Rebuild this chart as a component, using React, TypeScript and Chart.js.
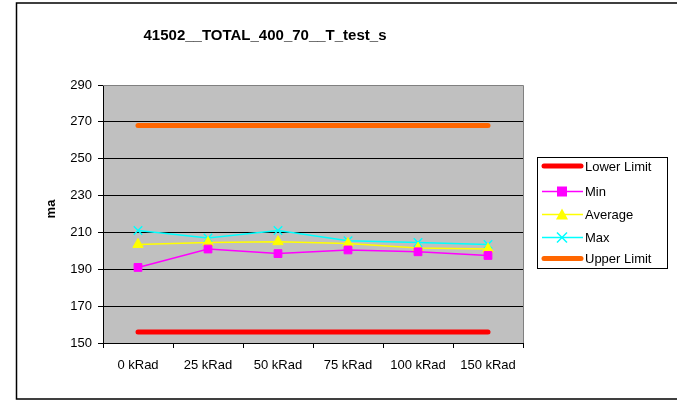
import React, { useEffect, useRef } from "react";
import { Chart, registerables } from "chart.js";

Chart.register(...registerables);

const chartTitle = "41502__TOTAL_400_70__T_test_s";
const yAxisTitle = "ma";
const categories = ["0 kRad", "25 kRad", "50 kRad", "75 kRad", "100 kRad", "150 kRad"];
const lowerLimit = [156, 156, 156, 156, 156, 156];
const minValues = [191, 201, 198.5, 200.5, 199.5, 197.5];
const avgValues = [203.5, 204.5, 205, 204, 201.5, 201];
const maxValues = [211, 207, 211, 205.5, 204.5, 203.5];
const upperLimit = [268, 268, 268, 268, 268, 268];
const yMin = 150;
const yMax = 290;
const yStep = 20;

const FONT = "'Liberation Sans', Arial, sans-serif";

const decorPlugin = {
  id: "decor",
  beforeDraw(chart: any) {
    const { ctx, chartArea } = chart;
    ctx.save();
    ctx.fillStyle = "#ffffff";
    ctx.fillRect(0, 0, chart.width, chart.height);
    ctx.fillStyle = "#C0C0C0";
    ctx.fillRect(chartArea.left, chartArea.top, chartArea.right - chartArea.left, chartArea.bottom - chartArea.top);
    ctx.restore();
  },
  afterDraw(chart: any) {
    const { ctx, chartArea } = chart;
    ctx.save();
    // outer border
    ctx.strokeStyle = "#000";
    ctx.lineWidth = 1.5;
    ctx.strokeRect(16.5, 3, 700, 396);
    // plot border top/right (gray)
    ctx.strokeStyle = "#808080";
    ctx.lineWidth = 1;
    ctx.beginPath();
    ctx.moveTo(chartArea.left, chartArea.top + 0.5);
    ctx.lineTo(chartArea.right + 0.5, chartArea.top + 0.5);
    ctx.lineTo(chartArea.right + 0.5, chartArea.bottom);
    ctx.stroke();
    // title
    ctx.fillStyle = "#000";
    ctx.font = `bold 15px ${FONT}`;
    ctx.textAlign = "center";
    ctx.textBaseline = "middle";
    ctx.fillText(chartTitle, 265, 36);
    // y title
    ctx.save();
    ctx.translate(51, 209);
    ctx.rotate(-Math.PI / 2);
    ctx.font = `bold 13px ${FONT}`;
    ctx.fillText(yAxisTitle, 0, 0);
    ctx.restore();
    // legend
    const lx = 537.5, ly = 157.5, lw = 130, lh = 111;
    ctx.fillStyle = "#fff";
    ctx.fillRect(lx, ly, lw, lh);
    ctx.strokeStyle = "#000";
    ctx.lineWidth = 1;
    ctx.strokeRect(lx, ly, lw, lh);
    const rows = [166, 191.5, 214.5, 237.5, 258.5];
    chart.data.datasets.forEach((ds: any, i: number) => {
      const y = rows[i];
      ctx.strokeStyle = ds.borderColor;
      ctx.lineWidth = ds.borderWidth;
      ctx.lineCap = ds.borderCapStyle || "butt";
      ctx.beginPath();
      ctx.moveTo(ds.borderWidth > 2 ? 544 : 542, y);
      ctx.lineTo(ds.borderWidth > 2 ? 581 : 583, y);
      ctx.stroke();
      ctx.lineCap = "butt";
      const cx = 562;
      if (ds.pointStyle === "rect") {
        ctx.fillStyle = ds.pointBackgroundColor;
        ctx.fillRect(cx - 5, y - 5, 10, 10);
      } else if (ds.pointStyle === "triangle") {
        ctx.fillStyle = ds.pointBackgroundColor;
        ctx.beginPath();
        ctx.moveTo(cx, y - 6);
        ctx.lineTo(cx + 6, y + 5);
        ctx.lineTo(cx - 6, y + 5);
        ctx.closePath();
        ctx.fill();
      } else if (ds.pointStyle === "crossRot") {
        ctx.strokeStyle = ds.pointBorderColor;
        ctx.lineWidth = 1.5;
        ctx.beginPath();
        ctx.moveTo(cx - 5, y - 5);
        ctx.lineTo(cx + 5, y + 5);
        ctx.moveTo(cx + 5, y - 5);
        ctx.lineTo(cx - 5, y + 5);
        ctx.stroke();
      }
      ctx.fillStyle = "#000";
      ctx.font = `13px ${FONT}`;
      ctx.textAlign = "left";
      ctx.textBaseline = "middle";
      ctx.fillText(ds.label, 585, y + 1);
    });
    ctx.restore();
  },
};

export default function App() {
  const ref = useRef<HTMLCanvasElement>(null);
  useEffect(() => {
    document.body.style.margin = "0";
    const chart = new Chart(ref.current!, {
      type: "line",
      data: {
        labels: categories,
        datasets: [
          {
            label: "Lower Limit",
            data: lowerLimit,
            borderColor: "#FF0000",
            backgroundColor: "#FF0000",
            borderWidth: 5,
            borderCapStyle: "round",
            pointRadius: 0,
            pointStyle: false as any,
          },
          {
            label: "Min",
            data: minValues,
            borderColor: "#FF00FF",
            backgroundColor: "#FF00FF",
            pointBackgroundColor: "#FF00FF",
            pointBorderColor: "#FF00FF",
            borderWidth: 1.5,
            pointStyle: "rect",
            pointRadius: 5.5,
            pointBorderWidth: 1,
          },
          {
            label: "Average",
            data: avgValues,
            borderColor: "#FFFF00",
            backgroundColor: "#FFFF00",
            pointBackgroundColor: "#FFFF00",
            pointBorderColor: "#FFFF00",
            borderWidth: 1.5,
            pointStyle: "triangle",
            pointRadius: 6,
            pointBorderWidth: 1,
          },
          {
            label: "Max",
            data: maxValues,
            borderColor: "#00FFFF",
            backgroundColor: "#00FFFF",
            pointBackgroundColor: "#00FFFF",
            pointBorderColor: "#00FFFF",
            borderWidth: 1.5,
            pointStyle: "crossRot",
            pointRadius: 6,
            pointBorderWidth: 1.5,
          },
          {
            label: "Upper Limit",
            data: upperLimit,
            borderColor: "#FF6600",
            backgroundColor: "#FF6600",
            borderWidth: 5,
            borderCapStyle: "round",
            pointRadius: 0,
            pointStyle: false as any,
          },
        ],
      },
      options: {
        animation: false,
        responsive: false,
        devicePixelRatio: 1,
        layout: { padding: { left: 0, right: 154, top: 85, bottom: 0 } },
        plugins: {
          legend: { display: false },
          title: { display: false },
          tooltip: { enabled: false },
        },
        scales: {
          x: {
            offset: true,
            grid: { offset: true, drawOnChartArea: false, color: "#000", tickLength: 5, tickColor: "#000" },
            border: { color: "#000", width: 1 },
            ticks: { color: "#000", font: { family: FONT, size: 13 }, padding: 10, maxRotation: 0, autoSkip: false },
            afterFit: (s: any) => { s.height = 57; },
          },
          y: {
            min: yMin,
            max: yMax,
            ticks: { stepSize: yStep, color: "#000", font: { family: FONT, size: 13 }, padding: 6 },
            grid: { color: "#000", tickLength: 5, tickColor: "#000", lineWidth: 1 },
            border: { color: "#000", width: 1 },
            afterFit: (s: any) => { s.width = 103; },
          },
        },
      },
      plugins: [decorPlugin],
    });
    return () => chart.destroy();
  }, []);
  return <canvas ref={ref} width={677} height={400} style={{ display: "block" }} />;
}
